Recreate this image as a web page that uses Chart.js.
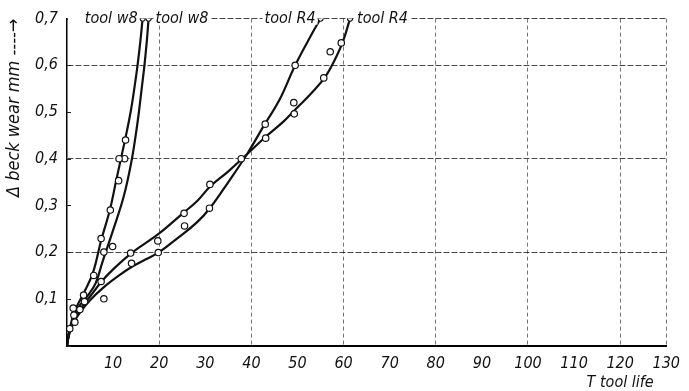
<!DOCTYPE html>
<html><head><meta charset="utf-8">
<script src="https://cdn.jsdelivr.net/npm/chart.js@4"></script>
<style>html,body{margin:0;padding:0;background:#fff}</style>
</head><body>
<canvas id="c" width="689" height="391"></canvas>
<script>
// ---- data ----
const xTickLabels = ['', '10', '20', '30', '40', '50', '60', '70', '80', '90', '100', '110', '120', '130'];
const yTickLabels = ['', '0,1', '0,2', '0,3', '0,4', '0,5', '0,6', '0,7'];
const xTitle = 'T tool life';
const yTitle = 'Δ beck wear mm ----→';
const curveLabels = ['tool w8', 'tool w8', 'tool R4', 'tool R4'];

// fitted curves: T (tool life) and wear
const w8aT    = [0, 0.5, 1.2, 2.1, 3.5, 5.6, 7.4, 9.3, 10.6, 11.7, 12.8, 13.8, 14.6, 15.3, 15.9, 16.4];
const w8aWear = [0, 0.03, 0.06, 0.083, 0.11, 0.155, 0.225, 0.29, 0.35, 0.4, 0.45, 0.5, 0.55, 0.6, 0.65, 0.7];
const w8bT    = [0, 0.5, 1.3, 2.5, 4.5, 6.2, 7.6, 10.0, 12.3, 13.9, 14.9, 15.6, 16.2, 16.8, 17.3, 17.7];
const w8bWear = [0, 0.028, 0.055, 0.082, 0.107, 0.133, 0.176, 0.247, 0.319, 0.39, 0.45, 0.5, 0.55, 0.6, 0.65, 0.7];
const r4aT    = [0, 0.5, 1.5, 3, 5, 8, 11, 14, 17, 20, 24, 28, 31, 35, 39, 42.9, 46.1, 49.5, 53.1, 55];
const r4aWear = [0, 0.025, 0.05, 0.073, 0.097, 0.125, 0.148, 0.168, 0.184, 0.2, 0.23, 0.262, 0.294, 0.35, 0.409, 0.474, 0.526, 0.6, 0.667, 0.7];
const r4bT    = [0, 0.5, 1.5, 3, 5, 7.5, 10, 14, 20, 25, 28.3, 31, 35, 39, 43.1, 47, 50, 53, 56, 58.5, 60, 61.4];
const r4bWear = [0, 0.03, 0.055, 0.08, 0.105, 0.137, 0.163, 0.198, 0.24, 0.282, 0.31, 0.34, 0.373, 0.409, 0.447, 0.48, 0.51, 0.54, 0.575, 0.62, 0.655, 0.7];

// measured points
const w8aPtT    = [12.7, 11.3, 11.2, 9.4, 7.4, 5.8, 1.35, 0.6];
const w8aPtWear = [0.44, 0.40, 0.353, 0.29, 0.229, 0.15, 0.08, 0.036];
const w8bPtT    = [12.5, 9.9, 8.0, 2.8, 1.7, 1.5];
const w8bPtWear = [0.40, 0.212, 0.20, 0.077, 0.05, 0.065];
const r4aPtT    = [8.0, 14.0, 19.8, 25.5, 30.9, 37.8, 43.0, 49.5, 3.6];
const r4aPtWear = [0.10, 0.176, 0.199, 0.256, 0.294, 0.40, 0.474, 0.60, 0.108];
const r4bPtT    = [3.8, 7.4, 13.8, 19.7, 25.4, 31.0, 43.1, 49.2, 49.3, 55.7, 57.1, 59.5];
const r4bPtWear = [0.094, 0.137, 0.198, 0.224, 0.283, 0.345, 0.444, 0.52, 0.496, 0.573, 0.629, 0.648];

// ---- build ----
const FONT = "'Liberation Sans Narrow', 'DejaVu Sans Condensed', 'Roboto Condensed', 'Liberation Sans', sans-serif";
const pairs = (xs, ys) => xs.map((x, i) => ({x: x, y: ys[i]}));
const curves = [[w8aT, w8aWear], [w8bT, w8bWear], [r4aT, r4aWear], [r4bT, r4bWear]];
const ptsets = [[w8aPtT, w8aPtWear], [w8bPtT, w8bPtWear], [r4aPtT, r4aPtWear], [r4bPtT, r4bPtWear]];
const labelSide = ['left', 'right', 'left', 'right'];

const datasets = [];
curves.forEach((c, k) => {
  const n = c[0].length;
  datasets.push({
    type: 'line', data: pairs(c[0], c[1]), borderColor: '#111', borderWidth: 2.2,
    tension: 0.4, fill: false,
    pointRadius: ctx => ctx.dataIndex === n - 1 ? 2.6 : 0,
    pointBackgroundColor: '#fff', pointBorderColor: '#111', pointBorderWidth: 1.1,
    order: 2
  });
});
ptsets.forEach(p => {
  datasets.push({
    type: 'scatter', data: pairs(p[0], p[1]), showLine: false,
    pointRadius: 3.2, pointBackgroundColor: '#fff', pointBorderColor: '#111', pointBorderWidth: 1.2,
    order: 1
  });
});

const decor = {
  id: 'decor',
  beforeDatasetsDraw(chart) {
    const {ctx, chartArea, scales: {y}} = chart;
    ctx.save();
    ctx.strokeStyle = '#222'; ctx.lineWidth = 1;
    y.ticks.forEach(t => {
      const py = Math.round(y.getPixelForValue(t.value)) + 0.5;
      ctx.beginPath(); ctx.moveTo(chartArea.left, py); ctx.lineTo(chartArea.left + 4, py); ctx.stroke();
    });
    ctx.restore();
  },
  afterDatasetsDraw(chart) {
    const {ctx, chartArea, scales: {x, y}} = chart;
    ctx.save();
    ctx.font = 'italic 16px ' + FONT;
    ctx.textBaseline = 'middle';
    curves.forEach((c, k) => {
      const n = c[0].length;
      const px = x.getPixelForValue(c[0][n - 1]);
      const py = y.getPixelForValue(c[1][n - 1]);
      const w = ctx.measureText(curveLabels[k]).width;
      let x0;
      if (labelSide[k] === 'left') x0 = px - 5 - w; else x0 = px + 7;
      ctx.fillStyle = '#fff';
      const left = (k === 0) ? chartArea.left + 1 : x0 - 2;
      ctx.fillRect(left, py - 6, x0 + w + 2 - left, 12);
      ctx.fillStyle = '#111';
      ctx.textAlign = 'left';
      ctx.fillText(curveLabels[k], x0, py);
    });
    // x axis title
    ctx.font = 'italic 16px ' + FONT;
    ctx.textAlign = 'center';
    ctx.fillText(xTitle, x.getPixelForValue(120), chartArea.bottom + 37);
    ctx.restore();
  }
};

const gx = v => (v > 0 && Math.round(v) % 20 === 0) || Math.round(v) === 130;
const gy = v => [2, 4, 6, 7].includes(Math.round(v * 10));

new Chart(document.getElementById('c'), {
  data: {datasets},
  plugins: [decor],
  options: {
    responsive: false, animation: false, devicePixelRatio: 1,
    layout: {padding: {top: 18, right: 11, bottom: 0, left: 0}},
    plugins: {legend: {display: false}, tooltip: {enabled: false}},
    scales: {
      x: {
        type: 'linear', min: 0, max: 130,
        ticks: {stepSize: 10, autoSkip: false, maxRotation: 0, padding: 9, color: '#111',
          font: {family: FONT, size: 16, style: 'italic'},
          callback: (v, i) => xTickLabels[i]},
        grid: {drawTicks: false, lineWidth: 1,
          color: c => (c.tick && gx(c.tick.value)) ? 'rgba(60,60,60,0.7)' : 'rgba(0,0,0,0)'},
        border: {display: true, color: '#000', width: 2, dash: [4, 3]},
        afterFit: s => { s.height = 45.5; }
      },
      y: {
        type: 'linear', min: 0, max: 0.7,
        ticks: {stepSize: 0.1, padding: 9, color: '#111',
          font: {family: FONT, size: 16, style: 'italic'},
          callback: (v, i) => yTickLabels[i]},
        grid: {drawTicks: false, lineWidth: 1,
          color: c => (c.tick && gy(c.tick.value)) ? 'rgba(40,40,40,0.85)' : 'rgba(0,0,0,0)'},
        border: {display: true, color: '#000', width: 1.5, dash: [6, 2]},
        title: {display: true, text: yTitle, align: 'end', color: '#111',
          font: {family: FONT, size: 18, style: 'italic'}, padding: {top: 4, bottom: 0}},
        afterFit: s => { s.width = 67; }
      }
    }
  }
});
</script>
</body></html>
